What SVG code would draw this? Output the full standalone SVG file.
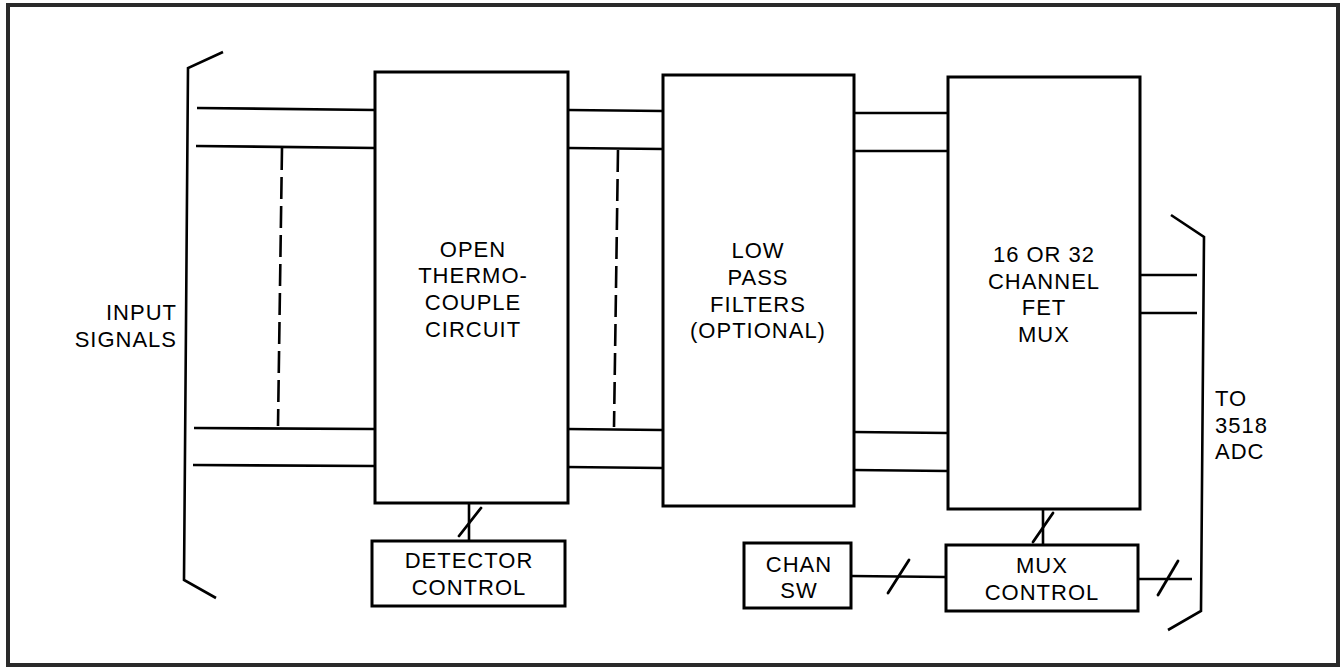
<svg xmlns="http://www.w3.org/2000/svg" width="1341" height="670" viewBox="0 0 1341 670">
<style>
.frame{fill:none;stroke:#2a2a2a;stroke-width:4}
.box{fill:#fff;stroke:#000;stroke-width:3}
.ln{fill:none;stroke:#000;stroke-width:2.6;stroke-linecap:butt}
.br{fill:none;stroke:#000;stroke-width:2.6;stroke-linejoin:miter}
.dash{fill:none;stroke:#000;stroke-width:2.6;stroke-dasharray:22,7}
.sl{fill:none;stroke:#000;stroke-width:2.8;stroke-linecap:round}
text{font-family:"Liberation Sans",Arial,Helvetica,sans-serif;font-size:22px;letter-spacing:1px;fill:#000}
.c{text-anchor:middle}
.r{text-anchor:end}
</style>
<rect class="frame" x="8" y="5" width="1330" height="660"/>
<g id="connectors">
  <polyline class="br" points="223,52 188,68 184,580 216,598"/>
  <line class="ln" x1="197" y1="108" x2="376" y2="110"/>
  <line class="ln" x1="196" y1="146" x2="376" y2="148"/>
  <line class="ln" x1="194" y1="428" x2="374" y2="429"/>
  <line class="ln" x1="193" y1="465" x2="374" y2="466"/>
  <line class="dash" x1="282" y1="148" x2="278" y2="426"/>
  <line class="ln" x1="568" y1="110" x2="663" y2="111"/>
  <line class="ln" x1="568" y1="148" x2="663" y2="149"/>
  <line class="ln" x1="566" y1="429" x2="662" y2="430"/>
  <line class="ln" x1="566" y1="467" x2="662" y2="468"/>
  <line class="dash" x1="618" y1="150" x2="614" y2="427"/>
  <line class="ln" x1="855" y1="113" x2="949" y2="113"/>
  <line class="ln" x1="855" y1="151" x2="949" y2="151"/>
  <line class="ln" x1="853" y1="432" x2="948" y2="433"/>
  <line class="ln" x1="853" y1="470" x2="948" y2="471"/>
  <line class="ln" x1="1141" y1="275" x2="1197" y2="275"/>
  <line class="ln" x1="1141" y1="313" x2="1197" y2="313"/>
  <polyline class="br" points="1171,215 1204,237 1201,611 1168,630"/>
  <line class="ln" x1="469" y1="503" x2="469" y2="541"/>
  <line class="sl" x1="459" y1="536" x2="481" y2="508"/>
  <line class="ln" x1="851" y1="576" x2="946" y2="577"/>
  <line class="sl" x1="888" y1="593" x2="909" y2="560"/>
  <line class="ln" x1="1043" y1="509" x2="1043" y2="545"/>
  <line class="sl" x1="1033" y1="542" x2="1053" y2="513"/>
  <line class="ln" x1="1138" y1="579" x2="1192" y2="579"/>
  <line class="sl" x1="1158" y1="595" x2="1178" y2="561"/>
</g>
<g id="input-label">
  <text class="r" x="177" y="320">INPUT</text>
  <text class="r" x="177" y="347">SIGNALS</text>
</g>
<g id="open-tc">
  <rect class="box" x="375" y="72" width="193" height="431"/>
  <text class="c" x="473" y="257">OPEN</text>
  <text class="c" x="473" y="283">THERMO-</text>
  <text class="c" x="473" y="310">COUPLE</text>
  <text class="c" x="473" y="337">CIRCUIT</text>
</g>
<g id="lpf">
  <rect class="box" x="663" y="75" width="191" height="431"/>
  <text class="c" x="758" y="258">LOW</text>
  <text class="c" x="758" y="285">PASS</text>
  <text class="c" x="758" y="312">FILTERS</text>
  <text class="c" x="758" y="338">(OPTIONAL)</text>
</g>
<g id="mux">
  <rect class="box" x="948" y="77" width="192" height="432"/>
  <text class="c" x="1044" y="262">16 OR 32</text>
  <text class="c" x="1044" y="289">CHANNEL</text>
  <text class="c" x="1044" y="315">FET</text>
  <text class="c" x="1044" y="342">MUX</text>
</g>
<g id="detector-control">
  <rect class="box" x="372" y="541" width="193" height="65"/>
  <text class="c" x="469" y="568">DETECTOR</text>
  <text class="c" x="469" y="595">CONTROL</text>
</g>
<g id="chan-sw">
  <rect class="box" x="744" y="543" width="107" height="65"/>
  <text class="c" x="799" y="572">CHAN</text>
  <text class="c" x="799" y="598">SW</text>
</g>
<g id="mux-control">
  <rect class="box" x="946" y="545" width="192" height="66"/>
  <text class="c" x="1042" y="573">MUX</text>
  <text class="c" x="1042" y="600">CONTROL</text>
</g>
<g id="adc-label">
  <text x="1215" y="406">TO</text>
  <text x="1215" y="433">3518</text>
  <text x="1215" y="459">ADC</text>
</g>
</svg>
